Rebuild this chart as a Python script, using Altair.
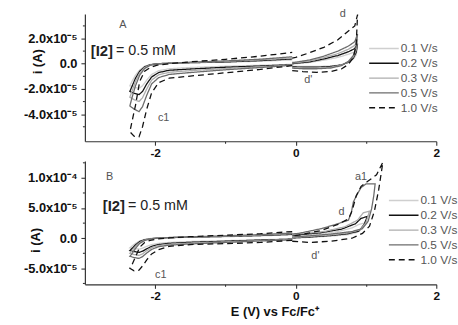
import altair as alt
import pandas as pd

RATES = ["0.1 V/s", "0.2 V/s", "0.3 V/s", "0.5 V/s", "1.0 V/s"]
COLORS = ["#cfcfcf", "#111111", "#adadad", "#6c6c6c", "#111111"]
DASHES = [[1, 0], [1, 0], [1, 0], [1, 0], [6, 4]]

E_DOMAIN = [-3, 2]
A_DOMAIN = [-6.15, 3.95]     # current in 1e-5 A
B_DOMAIN = [-7.65, 12.8]

# ---- cathodic loops (shared potential grid) ----
CATH_FWD_E = [-0.05, -0.5, -1.0, -1.5, -1.8, -1.95, -2.05, -2.12, -2.18, -2.23, -2.3, -2.36]
CATH_RET_E = [-2.33, -2.28, -2.22, -2.15, -2.07, -1.97, -1.8, -1.5, -1.0, -0.5, -0.05]

A_CATH_FWD = {
    "0.1 V/s": [-0.05, -0.12, -0.2, -0.3, -0.4, -0.55, -0.85, -1.3, -1.75, -1.95, -1.85, -1.75],
    "0.2 V/s": [-0.08, -0.18, -0.28, -0.42, -0.52, -0.7, -1.05, -1.6, -2.2, -2.45, -2.35, -2.2],
    "0.3 V/s": [-0.1, -0.24, -0.38, -0.55, -0.68, -0.88, -1.3, -2.0, -2.7, -3.0, -2.85, -2.65],
    "0.5 V/s": [-0.12, -0.3, -0.48, -0.7, -0.85, -1.1, -1.6, -2.5, -3.4, -3.8, -3.6, -3.35],
    "1.0 V/s": [-0.15, -0.45, -0.72, -0.98, -1.15, -1.5, -2.3, -3.6, -5.0, -5.8, -5.75, -5.4],
}
A_CATH_RET = {
    "0.1 V/s": [-1.4, -0.9, -0.5, -0.2, -0.06, 0.0, 0.05, 0.08, 0.12, 0.2, 0.3],
    "0.2 V/s": [-1.8, -1.15, -0.6, -0.25, -0.08, 0.0, 0.04, 0.08, 0.14, 0.25, 0.38],
    "0.3 V/s": [-2.2, -1.4, -0.72, -0.3, -0.1, -0.02, 0.03, 0.1, 0.18, 0.3, 0.45],
    "0.5 V/s": [-2.7, -1.75, -0.9, -0.38, -0.12, -0.03, 0.02, 0.12, 0.22, 0.36, 0.55],
    "1.0 V/s": [-4.6, -3.3, -1.4, -0.6, -0.3, -0.12, 0.0, 0.15, 0.35, 0.6, 0.9],
}
B_CATH_FWD = {
    "0.1 V/s": [-0.1, -0.25, -0.4, -0.55, -0.7, -0.85, -1.05, -1.35, -1.65, -1.8, -1.7, -1.6],
    "0.2 V/s": [-0.15, -0.3, -0.5, -0.68, -0.85, -1.05, -1.35, -1.75, -2.15, -2.35, -2.2, -2.05],
    "0.3 V/s": [-0.2, -0.38, -0.6, -0.8, -0.98, -1.2, -1.55, -2.05, -2.6, -2.85, -2.7, -2.5],
    "0.5 V/s": [-0.25, -0.45, -0.7, -0.95, -1.15, -1.4, -1.85, -2.45, -3.05, -3.35, -3.2, -3.0],
    "1.0 V/s": [-0.35, -0.7, -0.9, -1.05, -1.35, -1.9, -2.6, -3.6, -4.6, -5.3, -5.4, -5.0],
}
B_CATH_RET = {
    "0.1 V/s": [-1.3, -0.85, -0.45, -0.2, -0.05, 0.02, 0.08, 0.15, 0.25, 0.4, 0.55],
    "0.2 V/s": [-1.7, -1.1, -0.55, -0.25, -0.08, 0.02, 0.1, 0.18, 0.3, 0.45, 0.65],
    "0.3 V/s": [-2.1, -1.35, -0.7, -0.3, -0.1, 0.0, 0.1, 0.2, 0.35, 0.52, 0.75],
    "0.5 V/s": [-2.6, -1.7, -0.85, -0.38, -0.12, 0.0, 0.12, 0.22, 0.4, 0.6, 0.85],
    "1.0 V/s": [-4.4, -3.1, -1.5, -0.7, -0.35, -0.12, 0.05, 0.25, 0.5, 0.75, 1.1],
}

# ---- anodic loops ----
A_ANOD_LOW_E = [-0.05, 0.1, 0.3, 0.5, 0.65, 0.75, 0.82, 0.86, 0.88]
A_ANOD_UP_E = [0.84, 0.75, 0.6, 0.4, 0.2, 0.0, -0.05]
A_ANOD_LOW = {
    "0.1 V/s": [-0.2, -0.22, -0.22, -0.18, -0.08, 0.1, 0.35, 0.7, 1.3],
    "0.2 V/s": [-0.25, -0.28, -0.28, -0.22, -0.1, 0.12, 0.45, 0.9, 1.6],
    "0.3 V/s": [-0.3, -0.33, -0.33, -0.28, -0.12, 0.15, 0.55, 1.1, 1.95],
    "0.5 V/s": [-0.35, -0.4, -0.4, -0.34, -0.15, 0.18, 0.65, 1.3, 2.35],
    "1.0 V/s": [-0.55, -0.62, -0.68, -0.62, -0.42, -0.05, 0.5, 1.5, 3.9],
}
A_ANOD_UP = {
    "0.1 V/s": [0.95, 0.75, 0.5, 0.28, 0.1, 0.0, -0.05],
    "0.2 V/s": [1.2, 0.95, 0.65, 0.38, 0.15, 0.04, 0.0],
    "0.3 V/s": [1.45, 1.15, 0.8, 0.48, 0.22, 0.08, 0.05],
    "0.5 V/s": [1.75, 1.4, 1.0, 0.6, 0.3, 0.12, 0.1],
    "1.0 V/s": [3.0, 2.6, 1.9, 1.3, 0.88, 0.5, 0.45],
}
B_ANOD_E = {
    "0.1 V/s": [-0.05, 0.2, 0.5, 0.75, 0.88, 0.94, 0.98, 0.9, 0.8, 0.6, 0.3, 0.0, -0.05],
    "0.2 V/s": [-0.05, 0.2, 0.5, 0.75, 0.9, 0.97, 1.02, 0.93, 0.85, 0.65, 0.35, 0.0, -0.05],
    "0.3 V/s": [-0.05, 0.2, 0.5, 0.75, 0.92, 1.0, 1.05, 0.96, 0.88, 0.7, 0.4, 0.0, -0.05],
    "0.5 V/s": [-0.05, 0.2, 0.5, 0.8, 0.95, 1.03, 1.08, 1.11, 1.13, 1.0, 0.93, 0.87, 0.82,
                0.79, 0.75, 0.6, 0.37, 0.04, -0.05],
    "1.0 V/s": [-0.05, 0.2, 0.5, 0.8, 0.95, 1.05, 1.12, 1.18, 1.24, 1.15, 1.02, 0.93, 0.86,
                0.8, 0.75, 0.6, 0.37, 0.04, -0.05],
}
B_ANOD_I = {
    "0.1 V/s": [0.0, 0.15, 0.35, 0.6, 1.0, 1.7, 2.5, 2.3, 1.7, 1.1, 0.7, 0.45, 0.4],
    "0.2 V/s": [0.05, 0.2, 0.45, 0.75, 1.2, 2.2, 3.6, 3.3, 2.4, 1.5, 0.9, 0.55, 0.5],
    "0.3 V/s": [0.1, 0.3, 0.55, 0.9, 1.4, 2.6, 4.5, 4.2, 3.0, 1.9, 1.1, 0.65, 0.6],
    "0.5 V/s": [0.2, 0.4, 0.7, 1.1, 1.6, 2.8, 4.9, 7.0, 9.0, 9.0, 8.4, 7.2, 6.0,
                4.2, 3.0, 2.4, 1.6, 0.8, 0.7],
    "1.0 V/s": [-0.5, -0.7, -0.5, 0.0, 0.8, 2.0, 4.5, 8.0, 12.6, 10.5, 9.4, 8.6, 7.0,
                4.5, 3.2, 2.3, 1.3, 0.5, 0.4],
}

# ---- axis ticks ----
A_Y_MAJOR = [-4, -2, 0, 2]
A_Y_MINOR = [-5, -3, -1, 1, 3]
A_Y_LABELS = ["-4.0x10⁻⁵", "-2.0x10⁻⁵", "0.0", "2.0x10⁻⁵"]
B_Y_MAJOR = [-5, 0, 5, 10]
B_Y_MINOR = [-7.5, -2.5, 2.5, 7.5, 12.5]
B_Y_LABELS = ["-5.0x10⁻⁵", "0.0", "5.0x10⁻⁵", "1.0x10⁻⁴"]
X_TICKS = [-2, -1, 0, 1, 2]
X_LABELS = {-2: "-2", 0: "0", 2: "2"}

# ---- annotations ----
A_NOTE_TEXT = ["A", "c1", "d", "d'"]
A_NOTE_E = [-2.46, -1.88, 0.67, 0.18]
A_NOTE_I = [3.08, -4.3, 3.95, -1.31]
B_NOTE_TEXT = ["B", "c1", "a1", "d", "d'"]
B_NOTE_E = [-2.65, -1.92, 0.93, 0.65, 0.28]
B_NOTE_I = [10.2, -6.07, 10.2, 4.4, -2.95]
CONC_BOLD = "[I2]"
CONC_REST = "= 0.5 mM"
A_CONC_E, A_CONC_I = -2.60, 1.04
B_CONC_E, B_CONC_I = -2.43, 5.25

rows = []


def add(panel, rate, seg, es, cs):
    for k, (e, c) in enumerate(zip(es, cs)):
        rows.append({"panel": panel, "rate": rate, "seg": rate + seg, "k": k, "E": e, "I": c})


for r in RATES:
    add("A", r, "c", CATH_FWD_E + CATH_RET_E, A_CATH_FWD[r] + A_CATH_RET[r])
    add("A", r, "a", A_ANOD_LOW_E + A_ANOD_UP_E, A_ANOD_LOW[r] + A_ANOD_UP[r])
    add("B", r, "c", CATH_FWD_E + CATH_RET_E, B_CATH_FWD[r] + B_CATH_RET[r])
    add("B", r, "a", B_ANOD_E[r], B_ANOD_I[r])
df = pd.DataFrame(rows)


def label_expr(values, texts):
    expr = "''"
    for v, t in zip(values, texts):
        expr = f"datum.value == {v} ? '{t}' : " + expr
    return expr


FONT = "Liberation Sans"
AX = dict(grid=False, domainColor="#333333", tickColor="#333333", labelColor="#111111",
          labelFont=FONT, labelFontWeight="bold", labelOverlap=False,
          labelFlush=False, domainWidth=1.2, tickWidth=1.1)


def panel(name, ydom, ymaj, ymin, ylabels, tx, ty, lx, ly, notes, conc, xtitle, xpad):
    sub = df[df.panel == name]
    xs = alt.Scale(domain=E_DOMAIN, nice=False, zero=False)
    ys = alt.Scale(domain=ydom, nice=False, zero=False)
    if xtitle:
        xt = dict(title=xtitle, titleX=192, titleY=28, titleBaseline="middle",
                  titleFont=FONT, titleFontSize=13, titleFontWeight="bold", titleColor="#111111")
    else:
        xt = dict(title=None)
    xaxis = alt.Axis(values=X_TICKS, labelExpr=label_expr(list(X_LABELS), list(X_LABELS.values())),
                     tickSize={"condition": {"test": "abs(datum.value) == 1", "value": 2}, "value": 4},
                     labelPadding=xpad, labelFontSize=12, **AX, **xt)
    yaxis = alt.Axis(values=ymaj, labelExpr=label_expr(ymaj, ylabels), tickSize=4,
                     labelPadding=4, labelFontSize=13, title="i (A)", titleX=tx, titleY=ty,
                     titleAngle=270, titleBaseline="middle", titleAlign="center", titleFont=FONT,
                     titleFontSize=13, titleFontWeight="bold", titleColor="#111111", **AX)
    leg = alt.Legend(title=None, orient="none", legendX=lx, legendY=ly, symbolType="M-1,0H5",
                     symbolSize=100, symbolStrokeWidth=1.4, labelFont=FONT, labelFontSize=12,
                     labelColor="#555555", labelOffset=21, rowPadding=3, padding=0)
    lines = alt.Chart(sub).mark_line(strokeWidth=1.3, clip=True).encode(
        x=alt.X("E:Q", scale=xs, axis=xaxis),
        y=alt.Y("I:Q", scale=ys, axis=yaxis),
        color=alt.Color("rate:N", scale=alt.Scale(domain=RATES, range=COLORS), legend=leg),
        strokeDash=alt.StrokeDash("rate:N", scale=alt.Scale(domain=RATES, range=DASHES), legend=leg),
        detail="seg:N",
        order="k:Q",
    )
    minor = alt.Chart(pd.DataFrame({"I": ymin})).mark_rule(color="#333333", strokeWidth=1.1).encode(
        y=alt.Y("I:Q", scale=ys), x=alt.value(-2), x2=alt.value(0))
    nt = pd.DataFrame({"t": notes[0], "E": notes[1], "I": notes[2]})
    texts = alt.Chart(nt).mark_text(font=FONT, fontSize=11, color="#555555").encode(
        x=alt.X("E:Q", scale=xs), y=alt.Y("I:Q", scale=ys), text="t:N")
    cb = pd.DataFrame({"t": [CONC_BOLD], "E": [conc[0]], "I": [conc[1]]})
    cr = pd.DataFrame({"t": [CONC_REST], "E": [conc[0]], "I": [conc[1]]})
    t1 = alt.Chart(cb).mark_text(font=FONT, fontSize=15, fontWeight="bold", align="right",
                                 color="#222222").encode(
        x=alt.X("E:Q", scale=xs), y=alt.Y("I:Q", scale=ys), text="t:N")
    t2 = alt.Chart(cr).mark_text(font=FONT, fontSize=14.5, align="left", dx=3,
                                 color="#222222").encode(
        x=alt.X("E:Q", scale=xs), y=alt.Y("I:Q", scale=ys), text="t:N")
    return alt.layer(lines, minor, texts, t1, t2)


chart_a = panel(
    "A", A_DOMAIN, A_Y_MAJOR, A_Y_MINOR, A_Y_LABELS, -48, 48, 287, 29,
    (A_NOTE_TEXT, A_NOTE_E, A_NOTE_I), (A_CONC_E, A_CONC_I), None, 2,
).properties(width=356, height=129)

chart_b = panel(
    "B", B_DOMAIN, B_Y_MAJOR, B_Y_MINOR, B_Y_LABELS, -50, 80, 307, 34,
    (B_NOTE_TEXT, B_NOTE_E, B_NOTE_I), (B_CONC_E, B_CONC_I), "E (V) vs Fc/Fc⁺", 2,
).properties(width=356, height=125)

chart = alt.vconcat(chart_a, chart_b, spacing=20, bounds="flush").resolve_scale(
    color="independent", strokeDash="independent"
).resolve_legend(color="independent", strokeDash="independent").properties(
    padding={"left": 23, "top": 6, "right": 0, "bottom": 0}, background="white"
).configure_view(stroke=None)

chart.save("out.html", embed_options={"renderer": "svg", "actions": False})
